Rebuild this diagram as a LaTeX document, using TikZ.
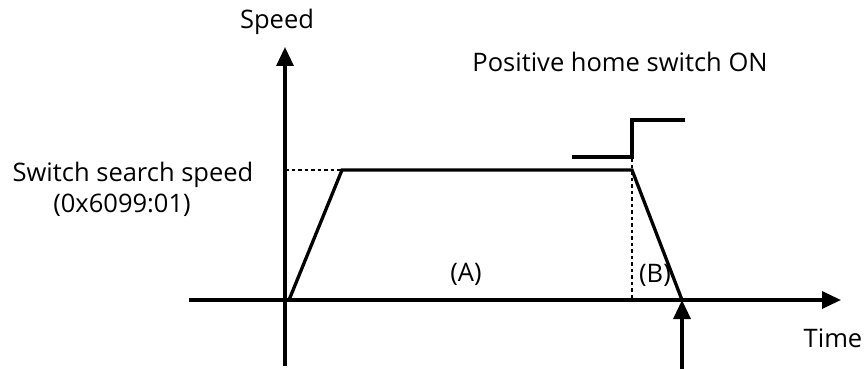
\documentclass[tikz,border=0pt]{standalone}
\usepackage{fontspec}
\setmainfont{Open Sans}
\usetikzlibrary{arrows.meta}
\begin{document}
\begin{tikzpicture}[x=1pt,y=-1pt,
  ln/.style={line width=3.3pt},
  thin dash/.style={line width=2.8pt,dash pattern=on 3.5pt off 3pt},
  arr/.style={ln,-{Triangle[length=19pt,width=17pt]}},
  lbl/.style={font=\fontsize{25.5}{30}\selectfont,inner sep=0pt}]
\useasboundingbox (0,0) rectangle (867,369);
% axes
\coordinate (yb) at (285,366);
\coordinate (yt) at (285,47);
\coordinate (xl) at (189,300);
\coordinate (xr) at (841,300);
\draw[arr] (yb) -- (yt);
\draw[arr] (xl) -- (xr);
% trapezoid
\coordinate (p0) at (289,300);
\coordinate (p1) at (342,170);
\coordinate (p2) at (632,170);
\coordinate (p3) at (682,300);
\draw[ln,line join=miter] (p0) -- (p1) -- (p2) -- (p3);
% dashed level
\coordinate (d0) at (285,170);
\draw[thin dash] (d0) -- (p1);
% dotted vertical
\coordinate (v0) at (632,158);
\coordinate (v1) at (632,300);
\draw[thin dash] (v0) -- (v1);
% switch signal
\coordinate (s0) at (572,157);
\coordinate (s1) at (632,157);
\coordinate (s2) at (632,120);
\coordinate (s3) at (685,120);
\draw[ln] (s0) -- (s1) -- (s2) -- (s3);
% up arrow
\coordinate (ub) at (682,369);
\draw[arr] (ub) -- (p3);
% labels
\node[lbl] (speed) at (277,22) {Speed};
\node[lbl] (pos) at (620,62) {Positive home switch ON};
\node[lbl] (sss) at (133,175) {Switch search speed};
\node[lbl] (obj) at (122,205) {(0x6099:01)};
\node[lbl] (A) at (466,274) {(A)};
\node[lbl] (B) at (655,275) {(B)};
\node[lbl] (time) at (833,338) {Time};
\end{tikzpicture}
\end{document}
